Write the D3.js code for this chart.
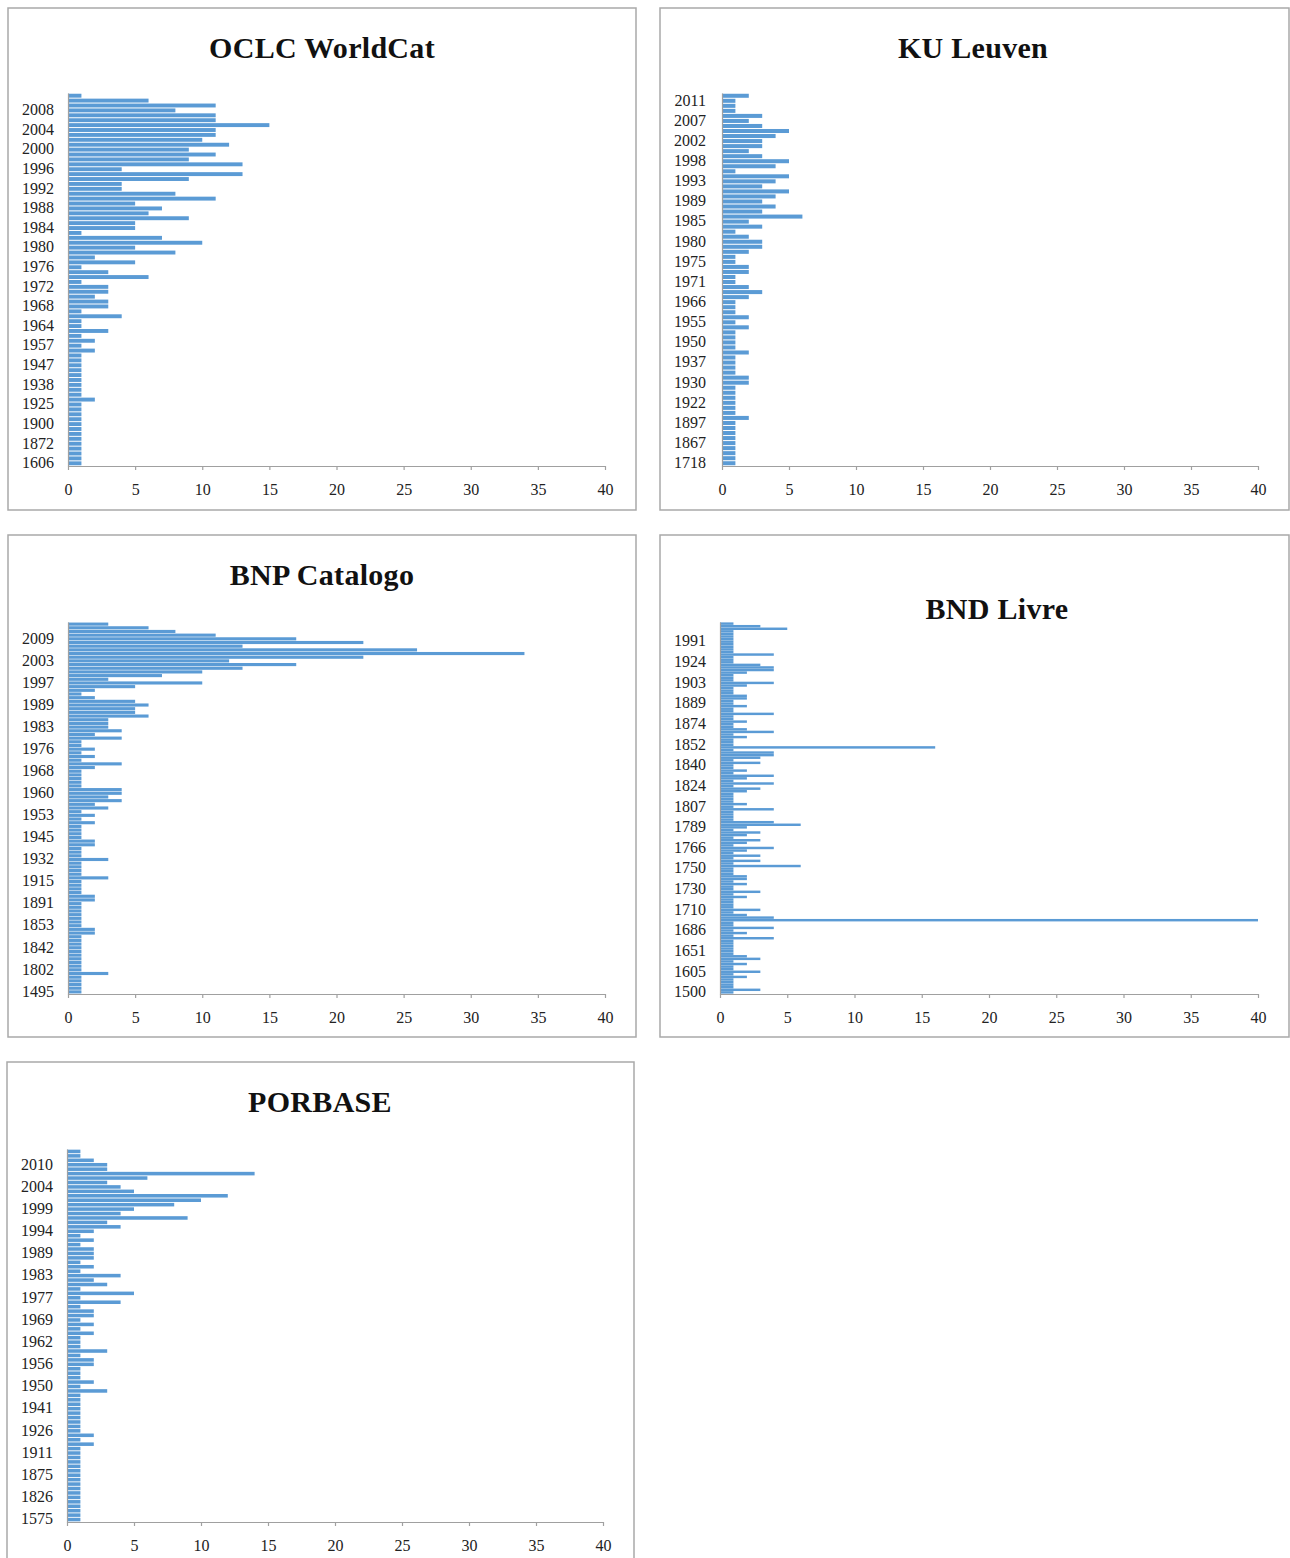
<!DOCTYPE html>
<html lang="en">
<head>
<meta charset="UTF-8">
<title>records by year of publication</title>
<script src="https://cdn.jsdelivr.net/npm/d3@7/dist/d3.min.js"></script>
<style>
    body { margin: 0; background: #fff; }
    svg { display: block; }
    .panel-box { fill: #fff; stroke: #a9a9a9; stroke-width: 1.5px; }
    .title {
        font-family: 'Liberation Serif', 'DejaVu Serif', serif;
        font-weight: bold;
        font-size: 30px;
        letter-spacing: 0.3px;
        fill: #111;
    }
    .axis text {
        font-family: 'Liberation Serif', 'DejaVu Serif', serif;
        font-size: 16px;
        fill: #222;
    }
    .axis .domain, .axis .tick line { stroke: #a0a0a0; stroke-width: 1.2px; }
    .bar { fill: #5b9bd5; }
</style>
</head>
<body>
<svg width="1290" height="1558"></svg>
<script>

    // every series is listed from the top bar (latest year) down to the bottom bar
    // only every n-th category label is printed, counted from the bottom bar

    var oclcLabels = ['2008', '2004', '2000', '1996', '1992', '1988', '1984', '1980', '1976', '1972',
        '1968', '1964', '1957', '1947', '1938', '1925', '1900', '1872', '1606'];
    var oclcValues = [1, 6, 11, 8, 11, 11, 15, 11, 11, 10,
        12, 9, 11, 9, 13, 4, 13, 9, 4, 4,
        8, 11, 5, 7, 6, 9, 5, 5, 1, 7,
        10, 5, 8, 2, 5, 1, 3, 6, 1, 3,
        3, 2, 3, 3, 1, 4, 1, 1, 3, 1,
        2, 1, 2, 1, 1, 1, 1, 1, 1, 1,
        1, 1, 2, 1, 1, 1, 1, 1, 1, 1,
        1, 1, 1, 1, 1, 1];

    var kuLabels = ['2011', '2007', '2002', '1998', '1993', '1989', '1985', '1980', '1975', '1971',
        '1966', '1955', '1950', '1937', '1930', '1922', '1897', '1867', '1718'];
    var kuValues = [2, 1, 1, 1, 3, 2, 3, 5, 4, 3,
        3, 2, 3, 5, 4, 1, 5, 4, 3, 5,
        4, 3, 4, 3, 6, 2, 3, 1, 2, 3,
        3, 2, 1, 1, 2, 2, 1, 1, 2, 3,
        2, 1, 1, 1, 2, 1, 2, 1, 1, 1,
        1, 2, 1, 1, 1, 1, 2, 2, 1, 1,
        1, 1, 1, 1, 2, 1, 1, 1, 1, 1,
        1, 1, 1, 1];

    var bnpLabels = ['2009', '2003', '1997', '1989', '1983', '1976', '1968', '1960', '1953', '1945',
        '1932', '1915', '1891', '1853', '1842', '1802', '1495'];
    var bnpValues = [3, 6, 8, 11, 17, 22, 13, 26, 34, 22,
        12, 17, 13, 10, 7, 3, 10, 5, 2, 1,
        2, 5, 6, 5, 5, 6, 3, 3, 3, 4,
        2, 4, 1, 1, 2, 1, 2, 1, 4, 2,
        1, 1, 1, 1, 1, 4, 4, 3, 4, 2,
        3, 1, 2, 1, 2, 1, 1, 1, 1, 2,
        2, 1, 1, 1, 3, 1, 1, 1, 1, 3,
        1, 1, 1, 1, 2, 2, 1, 1, 1, 1,
        1, 1, 1, 2, 2, 1, 1, 1, 1, 1,
        1, 1, 1, 1, 1, 3, 1, 1, 1, 1,
        1];

    var bndLabels = ['1991', '1924', '1903', '1889', '1874', '1852', '1840', '1824', '1807', '1789',
        '1766', '1750', '1730', '1710', '1686', '1651', '1605', '1500'];
    var bndValues = [1, 3, 5, 1, 1, 1, 1, 1, 1, 1,
        1, 1, 4, 1, 1, 1, 3, 4, 4, 2,
        1, 1, 1, 4, 2, 1, 1, 1, 2, 2,
        1, 1, 2, 1, 1, 4, 1, 1, 2, 1,
        1, 2, 4, 1, 2, 1, 1, 1, 16, 1,
        4, 4, 3, 1, 3, 1, 1, 2, 1, 4,
        2, 1, 4, 1, 3, 2, 1, 1, 1, 1,
        2, 1, 4, 1, 1, 1, 1, 4, 6, 2,
        1, 3, 2, 1, 3, 2, 1, 4, 2, 1,
        3, 1, 3, 1, 6, 1, 1, 1, 2, 2,
        1, 2, 1, 1, 3, 1, 2, 1, 1, 1,
        1, 3, 1, 2, 4, 40, 1, 1, 4, 1,
        2, 1, 4, 1, 1, 1, 1, 1, 1, 2,
        3, 1, 2, 1, 1, 3, 1, 2, 1, 1,
        1, 1, 3, 1];

    var porLabels = ['2010', '2004', '1999', '1994', '1989', '1983', '1977', '1969', '1962', '1956',
        '1950', '1941', '1926', '1911', '1875', '1826', '1575'];
    var porValues = [1, 1, 2, 3, 3, 14, 6, 3, 4, 5,
        12, 10, 8, 5, 4, 9, 3, 4, 2, 1,
        2, 1, 2, 2, 2, 1, 2, 1, 4, 2,
        3, 1, 5, 1, 4, 1, 2, 2, 1, 2,
        1, 2, 1, 1, 1, 3, 1, 2, 2, 1,
        1, 1, 2, 1, 3, 1, 1, 1, 1, 1,
        1, 1, 1, 1, 2, 1, 2, 1, 1, 1,
        1, 1, 1, 1, 1, 1, 1, 1, 1, 1,
        1, 1, 1, 1];

    var xTicks = [0, 5, 10, 15, 20, 25, 30, 35, 40];

    var panels = [
        {title: 'OCLC WorldCat', labels: oclcLabels, values: oclcValues, step: 4, gap: 0.2,
            box: [8, 8, 628, 502], titleX: 322, titleY: 47,
            left: 68, right: 605, top: 93, bottom: 466, pad: 14},
        {title: 'KU Leuven', labels: kuLabels, values: kuValues, step: 4, gap: 0.2,
            box: [660, 8, 629, 502], titleX: 973, titleY: 47,
            left: 722, right: 1258, top: 93, bottom: 466, pad: 16},
        {title: 'BNP Catalogo', labels: bnpLabels, values: bnpValues, step: 6, gap: 0.15,
            box: [8, 535, 628, 502], titleX: 322, titleY: 574,
            left: 68, right: 605, top: 622, bottom: 994, pad: 14},
        {title: 'BND Livre', labels: bndLabels, values: bndValues, step: 8, gap: 0.05,
            box: [660, 535, 629, 502], titleX: 997, titleY: 608,
            left: 720, right: 1258, top: 622, bottom: 994, pad: 14},
        {title: 'PORBASE', labels: porLabels, values: porValues, step: 5, gap: 0.2,
            box: [7, 1062, 627, 510], titleX: 320, titleY: 1101,
            left: 67, right: 603, top: 1149, bottom: 1522, pad: 14}
    ];

    var svg = d3.select('svg');

    panels.forEach(function (p) {
        var g = svg.append('g');

        g.append('rect')
            .attr('class', 'panel-box')
            .attr('x', p.box[0])
            .attr('y', p.box[1])
            .attr('width', p.box[2])
            .attr('height', p.box[3]);

        g.append('text')
            .attr('class', 'title')
            .attr('x', p.titleX)
            .attr('y', p.titleY)
            .attr('text-anchor', 'middle')
            .attr('dominant-baseline', 'central')
            .text(p.title);

        var n = p.values.length;

        var x = d3.scaleLinear()
            .domain([0, 40])
            .range([p.left, p.right]);

        var y = d3.scaleBand()
            .domain(d3.range(n))
            .range([p.top, p.bottom])
            .paddingInner(p.gap)
            .paddingOuter(0.15);

        // label every step-th bar, starting from the bottom one
        var tickIdx = d3.range(n).filter(function (i) {
            return (n - 1 - i) % p.step === 0;
        });

        g.append('g').selectAll('rect')
            .data(p.values)
            .enter()
            .append('rect')
            .attr('class', 'bar')
            .attr('x', x(0))
            .attr('y', function (d, i) { return y(i); })
            .attr('width', function (d) { return x(d) - x(0); })
            .attr('height', y.bandwidth());

        var yAxis = d3.axisLeft(y)
            .tickValues(tickIdx)
            .tickSize(0)
            .tickPadding(p.pad)
            .tickFormat(function (i) { return p.labels[tickIdx.indexOf(i)]; });

        g.append('g')
            .attr('class', 'axis')
            .attr('transform', 'translate(' + p.left + ',0)')
            .call(yAxis)
            .selectAll('text')
            .attr('dy', '0.3em');

        var xAxis = d3.axisBottom(x)
            .tickValues(xTicks)
            .tickSizeInner(4)
            .tickSizeOuter(0)
            .tickPadding(14);

        g.append('g')
            .attr('class', 'axis')
            .attr('transform', 'translate(0,' + p.bottom + ')')
            .call(xAxis);
    });

</script>
</body>
</html>
